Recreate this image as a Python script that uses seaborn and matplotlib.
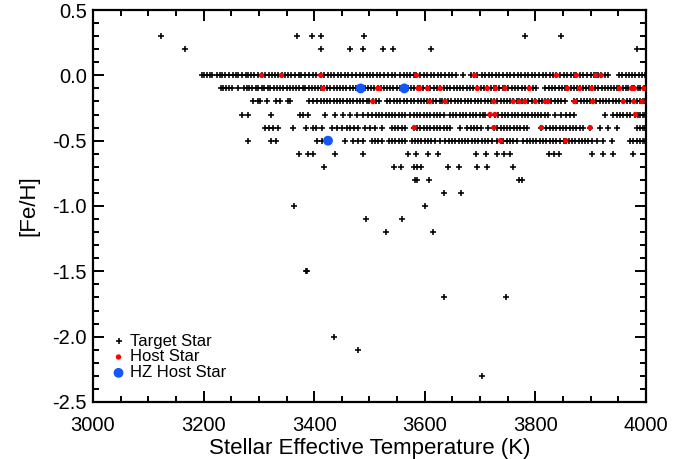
import matplotlib
matplotlib.use("Agg")
import matplotlib.pyplot as plt
from matplotlib.ticker import MultipleLocator, FormatStrFormatter
import numpy as np
import pandas as pd
import seaborn as sns

# Target stars, grouped by [Fe/H] row: effective temperatures (K)
teff_p03 = [3123, 3369, 3396, 3413, 3490, 3781, 3846]
teff_p02 = [3167, 3412, 3464, 3488, 3524, 3542, 3611, 3984]
teff_00 = [3197, 3201, 3206, 3211, 3216, 3224, 3230, 3234, 3239, 3246, 3253, 3258, 3262, 3269,
           3276, 3281, 3285, 3292, 3299, 3305, 3311, 3318, 3323, 3329, 3334, 3341, 3347, 3353,
           3358, 3365, 3372, 3377, 3383, 3390, 3397, 3404, 3412, 3418, 3425, 3431, 3436, 3443,
           3449, 3456, 3462, 3468, 3475, 3482, 3489, 3495, 3501, 3507, 3513, 3519, 3526, 3533,
           3540, 3547, 3555, 3562, 3568, 3574, 3580, 3585, 3591, 3598, 3604, 3611, 3617, 3624,
           3630, 3637, 3643, 3650, 3656, 3670, 3683, 3689, 3695, 3703, 3709, 3716, 3722, 3729,
           3735, 3742, 3749, 3755, 3761, 3768, 3774, 3781, 3787, 3794, 3800, 3806, 3813, 3820,
           3826, 3832, 3838, 3845, 3851, 3857, 3864, 3870, 3874, 3881, 3887, 3894, 3900, 3906,
           3909, 3914, 3919, 3926, 3932, 3951, 3957, 3963, 3969, 3975, 3981, 3987, 3993, 3998]
teff_m01 = [3231, 3236, 3241, 3246, 3251, 3263, 3273, 3278, 3283, 3288, 3294, 3299, 3305, 3310,
            3316, 3321, 3327, 3333, 3339, 3344, 3350, 3356, 3361, 3367, 3373, 3379, 3384, 3390,
            3396, 3402, 3407, 3412, 3417, 3423, 3429, 3435, 3441, 3447, 3452, 3458, 3464, 3470,
            3476, 3484, 3491, 3497, 3503, 3509, 3515, 3520, 3526, 3532, 3538, 3543, 3549, 3556,
            3563, 3569, 3575, 3581, 3587, 3591, 3597, 3604, 3610, 3616, 3622, 3628, 3634, 3640,
            3646, 3652, 3658, 3664, 3670, 3676, 3682, 3688, 3695, 3701, 3707, 3713, 3719, 3725,
            3729, 3735, 3741, 3745, 3751, 3757, 3763, 3769, 3775, 3781, 3789, 3795, 3801, 3818,
            3824, 3830, 3836, 3842, 3848, 3853, 3858, 3864, 3870, 3875, 3880, 3886, 3892, 3897,
            3902, 3908, 3914, 3920, 3926, 3931, 3937, 3943, 3948, 3952, 3958, 3963, 3968, 3974,
            3979, 3985, 3990, 3996, 3999]
teff_m02 = [3290, 3299, 3302, 3315, 3331, 3338, 3352, 3356, 3390, 3398, 3405, 3412, 3417, 3423,
            3429, 3435, 3441, 3447, 3453, 3459, 3465, 3471, 3477, 3483, 3489, 3495, 3500, 3506,
            3512, 3518, 3532, 3538, 3544, 3550, 3556, 3562, 3568, 3575, 3581, 3587, 3593, 3599,
            3604, 3609, 3615, 3621, 3627, 3632, 3637, 3642, 3648, 3654, 3660, 3666, 3672, 3678,
            3684, 3690, 3696, 3702, 3708, 3714, 3720, 3725, 3731, 3737, 3743, 3749, 3755, 3760,
            3766, 3771, 3776, 3781, 3787, 3793, 3799, 3806, 3812, 3817, 3823, 3829, 3835, 3841,
            3847, 3853, 3870, 3876, 3882, 3888, 3894, 3899, 3904, 3910, 3916, 3922, 3928, 3934,
            3940, 3946, 3952, 3959, 3965, 3971, 3978, 3984, 3989, 3994, 3999]
teff_m03 = [3270, 3281, 3322, 3374, 3380, 3388, 3419, 3437, 3453, 3465, 3477, 3489, 3498, 3505,
            3511, 3517, 3523, 3529, 3535, 3541, 3547, 3553, 3559, 3564, 3574, 3580, 3586, 3592,
            3598, 3604, 3610, 3616, 3622, 3628, 3634, 3645, 3651, 3657, 3663, 3669, 3675, 3681,
            3687, 3693, 3699, 3705, 3709, 3718, 3727, 3733, 3739, 3745, 3751, 3757, 3763, 3769,
            3775, 3781, 3787, 3793, 3799, 3805, 3811, 3817, 3823, 3835, 3847, 3856, 3862, 3869,
            3926, 3941, 3947, 3953, 3959, 3965, 3971, 3980, 3985, 3990, 3995, 3999]
teff_m04 = [3311, 3319, 3326, 3335, 3361, 3385, 3397, 3404, 3415, 3433, 3441, 3450, 3459, 3465,
            3472, 3480, 3492, 3501, 3510, 3522, 3540, 3546, 3552, 3558, 3564, 3580, 3586, 3592,
            3598, 3604, 3610, 3616, 3622, 3628, 3634, 3640, 3646, 3664, 3677, 3683, 3689, 3695,
            3702, 3715, 3725, 3731, 3737, 3743, 3749, 3755, 3761, 3767, 3773, 3779, 3784, 3811,
            3820, 3826, 3832, 3838, 3844, 3850, 3856, 3862, 3868, 3874, 3880, 3886, 3899, 3917,
            3932, 3947, 3983, 3989, 3995, 3999]
teff_m05 = [3281, 3322, 3331, 3406, 3414, 3425, 3456, 3471, 3480, 3488, 3504, 3510, 3516, 3522,
            3535, 3541, 3547, 3553, 3559, 3564, 3576, 3582, 3588, 3594, 3600, 3606, 3612, 3618,
            3627, 3637, 3643, 3649, 3655, 3661, 3667, 3673, 3679, 3685, 3691, 3697, 3703, 3709,
            3715, 3721, 3730, 3737, 3742, 3748, 3754, 3760, 3766, 3778, 3784, 3790, 3796, 3802,
            3808, 3814, 3820, 3826, 3832, 3838, 3844, 3851, 3855, 3860, 3866, 3872, 3878, 3884,
            3890, 3896, 3902, 3911, 3923, 3938, 3971, 3977, 3983, 3989, 3995, 3999]
teff_m06 = [3372, 3389, 3397, 3438, 3489, 3570, 3585, 3605, 3624, 3692, 3711, 3731, 3743, 3754,
            3825, 3834, 3843, 3903, 3923, 3941, 3977]
teff_m07 = [3418, 3545, 3557, 3580, 3586, 3594, 3642, 3661, 3694, 3713, 3759]
teff_m08 = [3582, 3586, 3608, 3770, 3775]
teff_m09 = [3635, 3665]
teff_m10 = [3363, 3600]
teff_m11 = [3494, 3558]
teff_m12 = [3529, 3614]
teff_m15 = [3385, 3387]
teff_m17 = [3634, 3747]
teff_m20 = [3436]
teff_m21 = [3480]
teff_m23 = [3703]

target_rows = [
    (0.3, teff_p03), (0.2, teff_p02), (0.0, teff_00), (-0.1, teff_m01), (-0.2, teff_m02),
    (-0.3, teff_m03), (-0.4, teff_m04), (-0.5, teff_m05), (-0.6, teff_m06), (-0.7, teff_m07),
    (-0.8, teff_m08), (-0.9, teff_m09), (-1.0, teff_m10), (-1.1, teff_m11), (-1.2, teff_m12),
    (-1.5, teff_m15), (-1.7, teff_m17), (-2.0, teff_m20), (-2.1, teff_m21), (-2.3, teff_m23),
]

# Planet host stars
host_teff_00 = [3305, 3341, 3412, 3585, 3690, 3838, 3874, 3909, 3919]
host_teff_m01 = [3416, 3515, 3518, 3588, 3591, 3605, 3628, 3695, 3713, 3728, 3745, 3789, 3858,
                 3880, 3902, 3952, 3974, 3979, 3996]
host_teff_m02 = [3506, 3609, 3637, 3725, 3760, 3771, 3781, 3800, 3818, 3823, 3871, 3904, 3959,
                 3978, 3993]
host_teff_m03 = [3718, 3727, 3981]
host_teff_m04 = [3581, 3725, 3811, 3899]
host_teff_m05 = [3737, 3855]
host_rows = [(0.0, host_teff_00), (-0.1, host_teff_m01), (-0.2, host_teff_m02),
             (-0.3, host_teff_m03), (-0.4, host_teff_m04), (-0.5, host_teff_m05)]

# Hosts of habitable-zone planets
hz_teff = [3484, 3563, 3425]
hz_feh = [-0.1, -0.1, -0.5]


def rows_to_frame(rows):
    teff, feh = [], []
    for z, temps in rows:
        teff.extend(temps)
        feh.extend([z] * len(temps))
    return pd.DataFrame({"teff": teff, "feh": feh})


targets = rows_to_frame(target_rows)
hosts = rows_to_frame(host_rows)
hz = pd.DataFrame({"teff": hz_teff, "feh": hz_feh})

sns.set_style("ticks")
plt.rcParams["font.family"] = ["Liberation Sans", "DejaVu Sans"]
plt.rcParams["axes.unicode_minus"] = False
plt.rcParams["text.color"] = "black"
plt.rcParams["axes.labelcolor"] = "black"
plt.rcParams["xtick.color"] = "black"
plt.rcParams["ytick.color"] = "black"

fig = plt.figure(figsize=(6.97, 4.59), dpi=100)
ax = fig.add_axes([0.1334, 0.1242, 0.7934, 0.854])

sns.scatterplot(data=targets, x="teff", y="feh", marker="+", s=20, color="black",
                linewidth=1.15, ax=ax, label="Target Star", zorder=2)
sns.scatterplot(data=hosts, x="teff", y="feh", marker="o", s=15, color="#ff0000",
                edgecolor="none", linewidth=0, ax=ax, label="Host Star", zorder=3)
sns.scatterplot(data=hz, x="teff", y="feh", marker="o", s=50, color="#1457fa",
                edgecolor="none", linewidth=0, ax=ax, label="HZ Host Star", zorder=4)

ax.set_xlim(3000, 4000)
ax.set_ylim(-2.5, 0.5)
ax.xaxis.set_major_locator(MultipleLocator(200))
ax.xaxis.set_minor_locator(MultipleLocator(50))
ax.yaxis.set_major_locator(MultipleLocator(0.5))
ax.yaxis.set_minor_locator(MultipleLocator(0.1))
ax.yaxis.set_major_formatter(FormatStrFormatter("%.1f"))

for side in ["left", "right", "top", "bottom"]:
    ax.spines[side].set_visible(True)
    ax.spines[side].set_linewidth(1.6)
    ax.spines[side].set_color("black")

ax.tick_params(which="both", direction="in", top=True, right=True, color="black", width=1.4)
ax.tick_params(which="major", length=8, labelsize=14.5)
ax.tick_params(which="minor", length=4)
ax.tick_params(axis="x", which="major", pad=10)
ax.tick_params(axis="y", which="major", pad=4.5)

ax.set_xlabel("Stellar Effective Temperature (K)", fontsize=16, labelpad=2)
ax.set_ylabel("[Fe/H]", fontsize=16, labelpad=9)

leg = ax.legend(loc="lower left", bbox_to_anchor=(0.01, 0.03), frameon=False, fontsize=12,
                handletextpad=0.1, labelspacing=0.05, borderaxespad=0.2, handlelength=1.2)

fig.savefig("out.png", dpi=100)
